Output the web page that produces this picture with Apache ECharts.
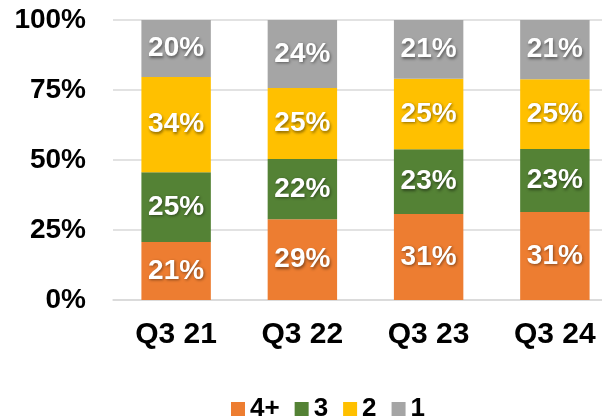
<!DOCTYPE html>
<html>
<head>
<meta charset="utf-8">
<script src="https://cdn.jsdelivr.net/npm/echarts@6/dist/echarts.min.js"></script>
<style>html,body{margin:0;padding:0;background:#fff}#c{width:602px;height:419px}</style>
</head>
<body>
<div id="c"></div>
<script>
const categories = ['Q3 21', 'Q3 22', 'Q3 23', 'Q3 24'];
const seriesNames = ['4+', '3', '2', '1'];
const s4plus = [20.7, 28.8, 30.7, 31.4];
const s3 = [24.9, 21.6, 23.1, 22.5];
const s2 = [34.0, 25.3, 25.2, 24.9];
const s1 = [20.4, 24.3, 21.0, 21.2];
const yTicks = [0, 25, 50, 75, 100];
const colors = ['#ED7D31', '#548235', '#FFC000', '#A5A5A5'];

const FONT = '"Liberation Sans", Arial, sans-serif';
const allData = [s4plus, s3, s2, s1];

const chart = echarts.init(document.getElementById('c'), null, {renderer: 'canvas'});
chart.setOption({
  animation: false,
  color: colors,
  grid: {left: 113, width: 505, top: 20, bottom: 119, outerBoundsMode: 'none', containLabel: false},
  legend: {
    data: seriesNames,
    top: 391,
    left: 226,
    itemWidth: 14,
    itemHeight: 14,
    itemGap: 15,
    icon: 'rect',
    textStyle: {fontFamily: FONT, fontSize: 26, fontWeight: 'bold', color: '#000'}
  },
  xAxis: {
    type: 'category',
    data: categories,
    axisLine: {show: true, lineStyle: {color: '#D9D9D9', width: 1.5}},
    axisTick: {show: false},
    axisLabel: {fontFamily: FONT, fontSize: 30, fontWeight: 'bold', color: '#000', margin: 20}
  },
  yAxis: {
    type: 'value',
    min: 0, max: 100, interval: 25,
    axisLine: {show: false},
    axisTick: {show: false},
    splitLine: {lineStyle: {color: '#D9D9D9', width: 1.5}},
    axisLabel: {fontFamily: FONT, fontSize: 28, fontWeight: 'bold', color: '#000', margin: 27,
      formatter: v => yTicks.includes(v) ? v + '%' : ''}
  },
  series: seriesNames.map((n, i) => ({
    name: n,
    type: 'bar',
    stack: 'total',
    barWidth: '55%',
    data: allData[i],
    itemStyle: {color: colors[i]},
    label: {
      show: true,
      position: 'inside',
      formatter: p => Math.round(p.value) + '%',
      fontFamily: FONT,
      fontSize: 28,
      fontWeight: 'bold',
      color: '#fff',
      textShadowColor: 'rgba(0,0,0,0.45)',
      textShadowBlur: 3,
      textShadowOffsetX: 1,
      textShadowOffsetY: 1.5
    }
  }))
});
</script>
</body>
</html>
